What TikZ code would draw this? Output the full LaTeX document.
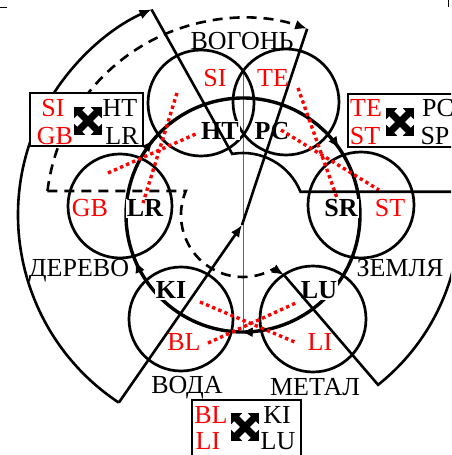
\documentclass[tikz,border=0pt]{standalone}
\usepackage{fontspec}
\setmainfont{Liberation Serif}
\usetikzlibrary{arrows.meta,decorations.markings}

\tikzset{
  swapsign/.pic={
    \draw[line width=7pt, {Triangle[length=8pt,width=15pt]}-{Triangle[length=8pt,width=15pt]}] (-14,-14) -- (14,14);
    \draw[line width=7pt, {Triangle[length=8pt,width=15pt]}-{Triangle[length=8pt,width=15pt]}] (-14,14) -- (14,-14);
  }
}

\begin{document}
\begin{tikzpicture}[x=1pt,y=1pt,
  font=\fontsize{26}{28}\selectfont,
  every node/.style={text height=17pt, text depth=0pt},
  lobe/.style={line width=2.7pt},
  organ/.style={font=\fontsize{26}{28}\selectfont\bfseries, fill=white, inner sep=1pt},
  bowel/.style={text=red, fill=white, inner sep=1pt},
  pair/.style={text=red},
  link/.style={red, line width=3.4pt, dash pattern=on 3.4pt off 3.2pt},
  kepath/.style={line width=2.6pt},
  kedash/.style={line width=2.6pt, dash pattern=on 10pt off 7pt},
  tip/.style={-{Latex[length=12pt,width=10pt]}},
  swapbox/.style={draw, line width=1.6pt, fill=white}]
\useasboundingbox (-243,-240) rectangle (208,215);
\clip (-243,-240) rectangle (208,215);

% bits of the page around the figure
\draw[line width=0.8pt] (-243,208) -- (-236,208);
\draw[line width=0.8pt] (205,215) -- (205,208);

% axis
\draw[black!60, line width=0.9pt] (0,144) -- (0,-117);

% organ circles
\draw[lobe] (-42,112) circle[radius=53];
\draw[lobe] (43,113) circle[radius=53];
\draw[lobe] (-123,9) circle[radius=52];
\draw[lobe] (118,10) circle[radius=53];
\draw[lobe] (-62,-104) circle[radius=52];
\draw[lobe] (70,-104) circle[radius=53];

% generating ring, clockwise
\draw[line width=3.4pt, postaction={decorate}, decoration={markings,
    mark=at position 0.154 with {\arrow{Latex[length=12pt,width=10pt]}},
    mark=at position 0.503 with {\arrow{Latex[length=12pt,width=10pt]}},
    mark=at position 0.686 with {\arrow{Latex[length=12pt,width=10pt]}},
    mark=at position 0.861 with {\arrow{Latex[length=12pt,width=10pt]}}}]
  (90:117) arc[start angle=90, end angle=-270, radius=117];

% labels
\node (fire) at (-1,174) {ВОГОНЬ};
\node[bowel] (SI) at (-28,137) {SI};
\node[bowel] (TE) at (30,137) {TE};
\node[organ] (HT) at (-23,84) {HT};
\node[organ] (PC) at (29,84) {PC};
\node[bowel] (GB) at (-153,7) {GB};
\node[organ] (LR) at (-98,7) {LR};
\node[organ] (SR) at (98,7) {SR};
\node[bowel] (ST) at (147,7) {ST};
\node (wood) at (-164,-53) {ДЕРЕВО};
\node[fill=white, inner sep=1pt] (earth) at (157,-53) {ЗЕМЛЯ};
\node[organ] (KI) at (-72,-75) {KI};
\node[organ] (LU) at (76,-75) {LU};
\node[bowel] (BL) at (-59,-127) {BL};
\node[bowel] (LI) at (77,-127) {LI};
\node (water) at (-56,-170) {ВОДА};
\node (metal) at (72,-172) {МЕТАЛ};

% crossed pairs
\coordinate (SIend) at (-66,122);
\coordinate (LRend) at (-100,12);
\coordinate (GBend) at (-135,42);
\coordinate (HTend) at (-45,82);
\coordinate (TEend) at (55,127);
\coordinate (SRend) at (94,17);
\coordinate (PCend) at (38,85);
\coordinate (STend) at (136,25);
\coordinate (KIend) at (-43,-87);
\coordinate (LIend) at (54,-128);
\coordinate (BLend) at (-35,-128);
\coordinate (LUend) at (55,-87);
\draw[link] (SIend) -- (LRend);
\draw[link] (GBend) -- (HTend);
\draw[link] (TEend) -- (SRend);
\draw[link] (PCend) -- (STend);
\draw[link] (KIend) -- (LIend);
\draw[link] (BLend) -- (LUend);

% controlling paths
\coordinate (water-out) at (236.5:225);
\coordinate (wood-out) at (114:225);
\coordinate (hub) at (-1,-10);
\coordinate (fire-in) at (71:197);
\coordinate (wood-in) at (173:197);
\coordinate (metal-in) at (41,-60);
\coordinate (metal-out) at (-51.5:217);
\draw[kepath, tip] (water-out) arc[start angle=236.5, end angle=114, radius=225];
\draw[kepath] (wood-out) -- (100:62) arc[start angle=100, end angle=22, radius=62] -- ++(170,0);
\draw[kepath, tip] (water-out) -- (hub);
\draw[kepath] (hub) -- (fire-in);
\draw[kedash, tip] (wood-in) arc[start angle=173, end angle=71, radius=197];
\draw[kedash, tip] (wood-in) -- (157.2:62) arc[start angle=157.2, end angle=300, radius=62] -- (metal-in);
\draw[kepath] (metal-in) -- (metal-out) arc[start angle=-51.5, end angle=10, radius=217];

% boxes
\node[swapbox, minimum width=113pt, minimum height=53pt] (boxW) at (-156.5,95.5) {};
\node[pair] (wSI) at (-190,107) {SI};
\node[pair] (wGB) at (-188,79) {GB};
\node (wHT) at (-123,107) {HT};
\node (wLR) at (-121,79) {LR};
\pic at (-155,94) {swapsign};

\node[swapbox, minimum width=125pt, minimum height=53pt] (boxE) at (167.5,94.5) {};
\node[pair] (eTE) at (123,107) {TE};
\node[pair] (eST) at (122,79) {ST};
\node (ePC) at (195,107) {PC};
\node (eSP) at (192,79) {SP};
\pic at (157,93) {swapsign};

\node[swapbox, minimum width=109pt, minimum height=65pt] (boxS) at (3.5,-217.5) {};
\node[pair] (sBL) at (-32,-200) {BL};
\node[pair] (sLI) at (-35,-226) {LI};
\node (sKI) at (34,-200) {KI};
\node (sLU) at (35,-226) {LU};
\pic at (2,-212) {swapsign};
\end{tikzpicture}
\end{document}
